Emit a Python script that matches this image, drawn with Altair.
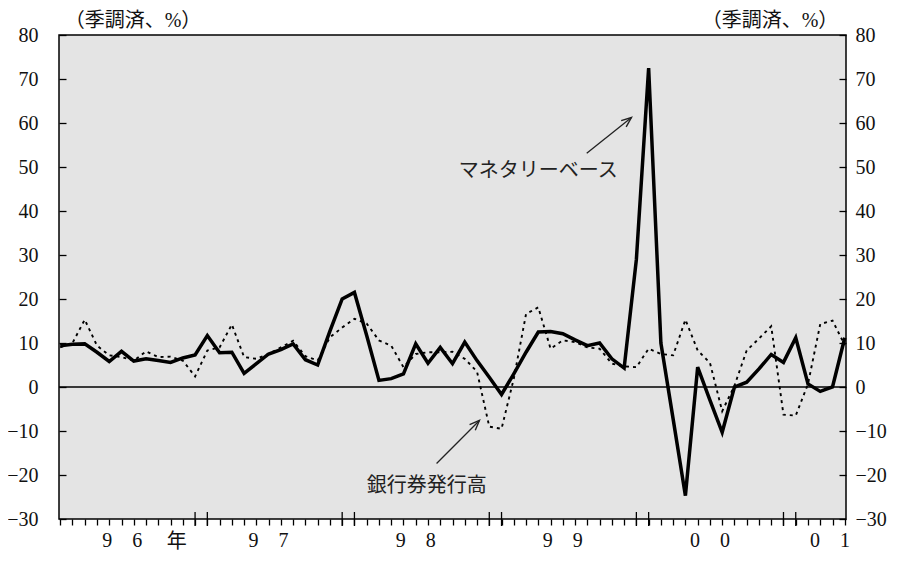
import math
import altair as alt
import pandas as pd

# ---- data (monthly, Jan 1996 .. May 2001), % seasonally adjusted ----
months = list(range(65))
monetary_base = [
    9.4, 9.7, 9.8, 7.9, 5.8, 8.1, 5.9, 6.4, 6.0, 5.6, 6.6, 7.3,
    11.7, 7.8, 7.9, 3.1, 5.3, 7.5, 8.5, 9.8, 6.2, 5.0, 12.7, 20.0,
    21.5, 11.7, 1.5, 1.9, 3.0, 9.8, 5.4, 9.0, 5.3, 10.2, 6.0, 2.2,
    -1.7, 3.0, 7.9, 12.5, 12.6, 12.1, 10.7, 9.4, 10.0, 6.4, 4.3, 29.0,
    72.5, 10.0, -7.3, -24.7, 4.5, -3.0, -10.3, 0.0, 1.1, 4.1, 7.4, 5.6,
    11.2, 0.7, -1.0, 0.0, 11.2,
]
banknotes = [
    9.0, 10.0, 15.3, 9.4, 7.2, 6.8, 6.0, 8.1, 6.8, 6.9, 6.0, 2.4,
    8.3, 9.0, 14.2, 6.8, 6.4, 7.5, 9.0, 10.5, 7.0, 6.0, 11.3, 13.5,
    15.5, 14.4, 10.6, 9.4, 4.5, 7.5, 7.9, 7.9, 8.0, 6.4, 3.5, -9.0,
    -9.5, 1.9, 16.6, 18.1, 8.7, 10.6, 10.2, 9.0, 8.7, 5.3, 4.7, 4.5,
    8.7, 7.5, 7.2, 15.3, 8.3, 5.5, -5.5, 0.3, 8.3, 11.0, 13.8, -6.3,
    -6.5, 0.7, 14.3, 15.1, 9.5,
]
y_ticks = list(range(-30, 90, 10))
year_edge_ticks = [11, 12, 23, 24, 35, 36, 47, 48, 59, 60]
x_label_pos = [5.05, 17, 29, 41, 53, 62.8]
x_label_text = ["9\u20036", "9\u20037", "9\u20038", "9\u20039", "0\u20030", "0\u20031"]
nen_pos = [9.5]
nen_text = ["年"]

anno_text = ["マネタリーベース", "銀行券発行高"]
anno_x = [39.0, 29.9]
anno_y = [49.2, -22.6]
arrow_x0 = [42.95, 30.7]
arrow_y0 = [53.1, -17.4]
arrow_x1 = [46.6, 34.2]
arrow_y1 = [61.25, -7.6]

# ---- geometry ----
W, H = 787, 484
XDOM = [-0.1, 64.1]
YDOM = [-30, 80]
px_per_x = W / (XDOM[1] - XDOM[0])
px_per_y = H / (YDOM[1] - YDOM[0])

SERIF = "Liberation Serif, Noto Sans CJK JP"
GOTHIC = "Noto Sans CJK JP"

xscale = alt.Scale(domain=XDOM, nice=False, zero=False)
x_axis = alt.Axis(values=months, tickSize=6, tickWidth=1.3, tickColor="black",
                  labels=False, domain=False, grid=False, title=None)


def X(field="m"):
    return alt.X(f"{field}:Q", scale=xscale, axis=x_axis)


def Y(field, axis=None):
    return alt.Y(f"{field}:Q", scale=alt.Scale(domain=YDOM, nice=False, zero=False), axis=axis)


left_axis = alt.Axis(values=y_ticks, orient="left", offset=-7, tickSize=7, tickWidth=1.3,
                     tickColor="black", labelPadding=21, labelFont="Liberation Serif",
                     labelFontSize=20, labelColor="#111", domain=False, grid=False, title=None)
right_axis = alt.Axis(values=y_ticks, orient="right", offset=-7, tickSize=7, tickWidth=1.3,
                      tickColor="black", labelPadding=9, labelFont="Liberation Serif",
                      labelFontSize=20, labelColor="#111", domain=False, grid=False, title=None)

df = pd.DataFrame({"m": months, "mb": monetary_base, "bn": banknotes})

zero = alt.Chart(pd.DataFrame({"v": [0]})).mark_rule(color="black", strokeWidth=1.5).encode(
    y=Y("v"))

bn_line = alt.Chart(df).mark_line(color="black", strokeWidth=1.9, strokeDash=[3, 4]).encode(
    x=X(), y=Y("bn", right_axis))

mb_line = alt.Chart(df).mark_line(color="black", strokeWidth=3.5).encode(
    x=X(), y=Y("mb", left_axis))

tall_ticks = alt.Chart(pd.DataFrame({"m": year_edge_ticks})).mark_rule(
    color="black", strokeWidth=1.3).encode(x=X(), y=alt.value(H - 7), y2=alt.value(H + 7))

xlabels = alt.Chart(pd.DataFrame({"m": x_label_pos, "t": x_label_text})).mark_text(
    font="Liberation Serif", fontSize=20, color="#111", baseline="middle", align="center").encode(
    x=X(), y=alt.value(H + 22), text="t:N")

nen = alt.Chart(pd.DataFrame({"m": nen_pos, "t": nen_text})).mark_text(
    font=SERIF, fontSize=20, color="#111", baseline="middle", align="center").encode(
    x=X(), y=alt.value(H + 23), text="t:N")

title_l = alt.Chart(pd.DataFrame({"t": ["（季調済、%）"]})).mark_text(
    font=SERIF, fontSize=20, color="#111", baseline="middle", align="center").encode(
    x=alt.value(74), y=alt.value(-14), text="t:N")
title_r = alt.Chart(pd.DataFrame({"t": ["（季調済、%）"]})).mark_text(
    font=SERIF, fontSize=20, color="#111", baseline="middle", align="center").encode(
    x=alt.value(711), y=alt.value(-14), text="t:N")

anno = alt.Chart(pd.DataFrame({"m": anno_x, "v": anno_y, "t": anno_text})).mark_text(
    font=GOTHIC, fontSize=20, color="#222", baseline="middle", align="center").encode(
    x=X(), y=Y("v"), text="t:N")

angles = []
for a, b, c, d in zip(arrow_x0, arrow_y0, arrow_x1, arrow_y1):
    ang = math.degrees(math.atan2(-(d - b) * px_per_y, (c - a) * px_per_x))
    angles.append(ang % 360)
arr_df = pd.DataFrame({"m": arrow_x0, "v": arrow_y0, "m2": arrow_x1, "v2": arrow_y1, "ang": angles})

arrow_lines = alt.Chart(arr_df).mark_rule(color="#222", strokeWidth=1.3).encode(
    x=X(), y=Y("v"), x2="m2:Q", y2="v2:Q")
arrow_heads = alt.Chart(arr_df).mark_point(
    shape="M-2,-0.8L0,0L-2,0.8", filled=False, size=100, strokeWidth=1.4,
    color="#222", opacity=1).encode(
    x=X("m2"), y=Y("v2"), angle=alt.Angle("ang:Q", scale=None))

chart = alt.layer(
    zero, bn_line, mb_line, tall_ticks, xlabels, nen, title_l, title_r, anno, arrow_lines, arrow_heads
).resolve_scale(y="independent").properties(
    width=W, height=H,
    autosize=alt.AutoSizeParams(type="none"),
    padding={"left": 51, "top": 27, "right": 43, "bottom": 35},
).configure(background="white").configure_view(fill="#e4e4e4", stroke="black", strokeWidth=1.5)

chart.save("out.html", embed_options={"renderer": "svg", "actions": False})
